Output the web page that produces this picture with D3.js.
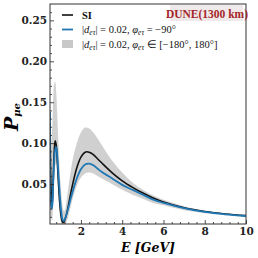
<!DOCTYPE html>
<html>
<head>
<meta charset="utf-8">
<script src="https://cdn.jsdelivr.net/npm/d3@7"></script>
<style>
body { margin:0; background:#fff; }
svg { display:block; }
</style>
</head>
<body>
<svg width="258" height="258"></svg>
<script>
// energy grid (GeV)
var energy = [0.5,0.55,0.6,0.65,0.7,0.75,0.8,0.85,0.9,0.95,1.0,1.05,1.1,1.15,1.2,1.3,1.4,1.5,1.6,1.8,
              2.0,2.2,2.4,2.6,2.8,3.0,3.5,4.0,4.5,5.0,5.5,6.0,7.0,8.0,9.0,10.0]
// SI
var probSI = [0.125,0.045,0.022,0.05,0.088,0.103,0.098,0.08,0.056,0.035,0.019,0.009,0.004,0.003,0.005,0.013,0.025,0.038,0.05,0.07,
              0.083,0.089,0.089,0.086,0.081,0.076,0.064,0.054,0.046,0.039,0.033,0.028,0.021,0.0165,0.0135,0.0115]
// |d| = 0.02, phi = -90
var probNSI = [0.138,0.025,0.02,0.048,0.077,0.092,0.095,0.085,0.066,0.046,0.028,0.015,0.007,0.005,0.006,0.013,0.022,0.032,0.041,0.057,
               0.068,0.074,0.075,0.073,0.069,0.065,0.057,0.049,0.043,0.037,0.031,0.027,0.0205,0.016,0.013,0.011]
// band over phi in [-180,180]
var bandHi = [0.14,0.1,0.115,0.15,0.172,0.175,0.163,0.135,0.105,0.078,0.055,0.038,0.025,0.018,0.017,0.03,0.048,0.065,0.08,0.1,
              0.113,0.119,0.118,0.113,0.106,0.098,0.079,0.064,0.052,0.043,0.036,0.031,0.023,0.0175,0.014,0.012]
var bandLo = [0.105,0.01,0.005,0.025,0.055,0.072,0.075,0.06,0.04,0.02,0.008,0.002,0,0,0,0.004,0.012,0.022,0.032,0.048,
              0.058,0.063,0.064,0.063,0.06,0.057,0.05,0.043,0.037,0.032,0.027,0.024,0.018,0.0145,0.012,0.0103]

var xTicks = [2,4,6,8,10]
var yTicks = [0.05,0.10,0.15,0.20,0.25]

var svg = d3.select('svg')
var L = 50, R = 246, T = 4, B = 224

var x = d3.scaleLinear().domain([0.5,10]).range([L,R])
var y = d3.scaleLinear().domain([0,0.27]).range([B+1,T])

var pts = energy.map(function(e,i){ return {e:e, si:probSI[i], nsi:probNSI[i], lo:bandLo[i], hi:bandHi[i]} })

svg.append('defs').append('clipPath').attr('id','clip')
   .append('rect').attr('x',L).attr('y',T).attr('width',R-L).attr('height',B-T)

var plot = svg.append('g').attr('clip-path','url(#clip)')

plot.append('path')
    .datum(pts)
    .attr('fill','#c8c8c8')
    .attr('fill-opacity',0.85)
    .attr('d', d3.area().curve(d3.curveCatmullRom)
        .x(function(d){ return x(d.e) })
        .y0(function(d){ return y(d.lo) })
        .y1(function(d){ return y(d.hi) }))

var line = function(key){
    return d3.line().curve(d3.curveCatmullRom)
        .x(function(d){ return x(d.e) })
        .y(function(d){ return y(d[key]) })
}
plot.append('path').datum(pts).attr('fill','none').attr('stroke','#111').attr('stroke-width',1.6).attr('d',line('si'))
plot.append('path').datum(pts).attr('fill','none').attr('stroke','#1f77b4').attr('stroke-width',1.8).attr('d',line('nsi'))

// axes
var xAxis = d3.axisBottom(x).tickValues(xTicks).tickSize(-4).tickPadding(4).tickFormat(d3.format('d'))
var xMinor = d3.axisBottom(x).tickValues(d3.range(0.8,10,0.4).filter(function(v){ return Math.abs(v/2-Math.round(v/2))>0.01 }))
               .tickSize(-2).tickFormat('')
var yAxis = d3.axisLeft(y).tickValues(yTicks).tickSize(-4).tickPadding(3).tickFormat(d3.format('.2f'))
var yMinor = d3.axisLeft(y).tickValues(d3.range(0.01,0.27,0.01).filter(function(v){ return Math.abs(v*20-Math.round(v*20))>0.01 }))
               .tickSize(-2).tickFormat('')

svg.append('g').attr('transform','translate(0,'+B+')').call(xAxis)
svg.append('g').attr('transform','translate(0,'+B+')').call(xMinor)
svg.append('g').attr('transform','translate('+L+',0)').call(yAxis)
svg.append('g').attr('transform','translate('+L+',0)').call(yMinor)

svg.selectAll('.domain').remove()
svg.selectAll('.tick line').attr('stroke','#222').attr('stroke-width',0.8)
svg.selectAll('.tick text').attr('font-family','DejaVu Serif').attr('font-weight','bold')
   .attr('font-size',10.5).attr('fill','#222')

svg.append('rect').attr('x',L).attr('y',T).attr('width',R-L).attr('height',B-T)
   .attr('fill','none').attr('stroke','#333').attr('stroke-width',1)

// axis labels
svg.append('text').attr('x',148).attr('y',252).attr('text-anchor','middle')
   .attr('font-family','DejaVu Serif').attr('font-weight','bold').attr('font-style','italic').attr('font-size',12.5)
   .text('E [GeV]')

var yl = svg.append('text').attr('transform','translate(18,117) rotate(-90)').attr('text-anchor','middle')
   .attr('font-family','DejaVu Serif').attr('font-weight','bold').attr('font-style','italic').attr('font-size',19)
yl.append('tspan').text('P')
yl.append('tspan').attr('font-size',10).attr('dy',2).text('μe')

// legend
var lg = svg.append('g').attr('font-family','Liberation Serif').attr('font-size',10.5).attr('fill','#111')
lg.append('line').attr('x1',62).attr('x2',73).attr('y1',15).attr('y2',15).attr('stroke','#111').attr('stroke-width',1.6)
lg.append('text').attr('x',82).attr('y',18.5).attr('font-weight','bold').text('SI')
lg.append('line').attr('x1',62).attr('x2',73).attr('y1',29.5).attr('y2',29.5).attr('stroke','#1f77b4').attr('stroke-width',1.8)
var t2 = lg.append('text').attr('x',82).attr('y',33)
t2.append('tspan').text('|')
t2.append('tspan').attr('font-style','italic').text('d')
t2.append('tspan').attr('font-style','italic').attr('font-size',7.5).attr('dy',2).text('eτ')
t2.append('tspan').attr('dy',-2).text('| = 0.02,  ')
t2.append('tspan').attr('font-style','italic').text('φ')
t2.append('tspan').attr('font-style','italic').attr('font-size',7.5).attr('dy',2).text('eτ')
t2.append('tspan').attr('dy',-2).text(' = −90°')
lg.append('rect').attr('x',62).attr('y',40).attr('width',11).attr('height',8).attr('fill','#c8c8c8')
var t3 = lg.append('text').attr('x',82).attr('y',47.5)
t3.append('tspan').text('|')
t3.append('tspan').attr('font-style','italic').text('d')
t3.append('tspan').attr('font-style','italic').attr('font-size',7.5).attr('dy',2).text('eτ')
t3.append('tspan').attr('dy',-2).text('| = 0.02,  ')
t3.append('tspan').attr('font-style','italic').text('φ')
t3.append('tspan').attr('font-style','italic').attr('font-size',7.5).attr('dy',2).text('eτ')
t3.append('tspan').attr('dy',-2).text(' ∈ [−180°, 180°]')

// experiment tag
svg.append('rect').attr('x',170).attr('y',5).attr('width',73).attr('height',16).attr('fill','#f0e9e9')
svg.append('text').attr('x',207).attr('y',17.5).attr('text-anchor','middle')
   .attr('font-family','Liberation Serif').attr('font-weight','bold').attr('font-size',11.5).attr('fill','#a3262a')
   .text('DUNE(1300 km)')
</script>
</body>
</html>
